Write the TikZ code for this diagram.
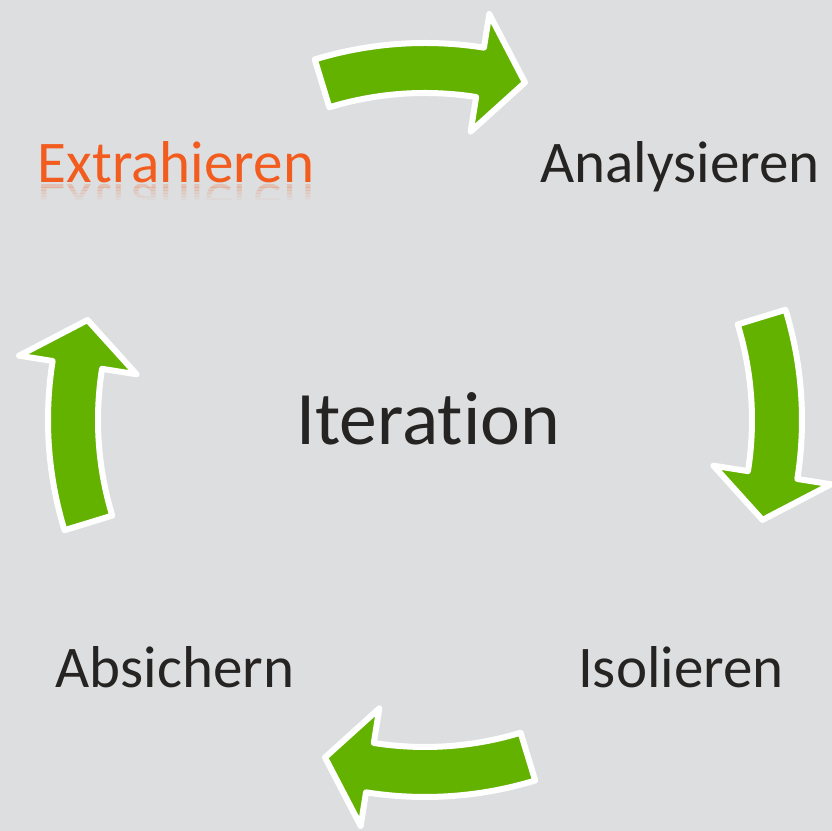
\documentclass[tikz,border=0pt]{standalone}
\usepackage{fontspec}
\setmainfont{Carlito}[Ligatures=NoCommon]
\usetikzlibrary{backgrounds}

\definecolor{bggray}{RGB}{221,222,224}
\definecolor{arrowgreen}{RGB}{99,178,0}
\definecolor{textgray}{RGB}{38,36,34}
\definecolor{extractorange}{RGB}{242,92,30}

\tikzset{
    cyclearrow/.style={fill=arrowgreen, draw=white, line width=0.6mm, line join=round},
    phase/.style={anchor=base, inner sep=0pt, text=textgray, font=\fontsize{16.8}{20}\selectfont},
}

\begin{document}
\begin{tikzpicture}[x=0.1mm, y=0.1mm]

    \fill[bggray] (-425, -411) rectangle (407, 420);
    \useasboundingbox (-425, -411) rectangle (407, 420);

    % Make the arrows
    \foreach \c in {90, 0, -90, 180}{
        \draw[cyclearrow] ({\c+17}:377) arc[start angle=\c+17, end angle=\c-9, radius=377]
            -- ({\c-9}:411) -- ({\c-16.5}:352) -- ({\c-9}:292) -- ({\c-9}:327)
            arc[start angle=\c-9, end angle=\c+17, radius=327] -- cycle;
    }

    % Make the phases
    \node[phase, text=extractorange] (extract) at (-249, 237) {Extrahieren};
    \node[phase] (analyse) at (255, 237) {Analysieren};
    \node[phase] (isolate) at (256, -268) {Isolieren};
    \node[phase] (secure) at (-250, -268) {Absichern};

    % Reflection under the orange one, fading out in bands
    \foreach \i/\o in {0/0.22, 1/0.16, 2/0.11, 3/0.07, 4/0.04}{
        \begin{scope}
            \clip (-400, {235-3*\i}) rectangle (-90, {232-3*\i});
            \node[phase, text=extractorange, opacity=\o, yscale=-1, transform shape] at (-249, 235) {Extrahieren};
        \end{scope}
    }

    \node[anchor=base, inner sep=0pt, text=textgray, font=\fontsize{21.5}{26}\selectfont] (iter) at (3, -25) {Iteration};

\end{tikzpicture}
\end{document}
